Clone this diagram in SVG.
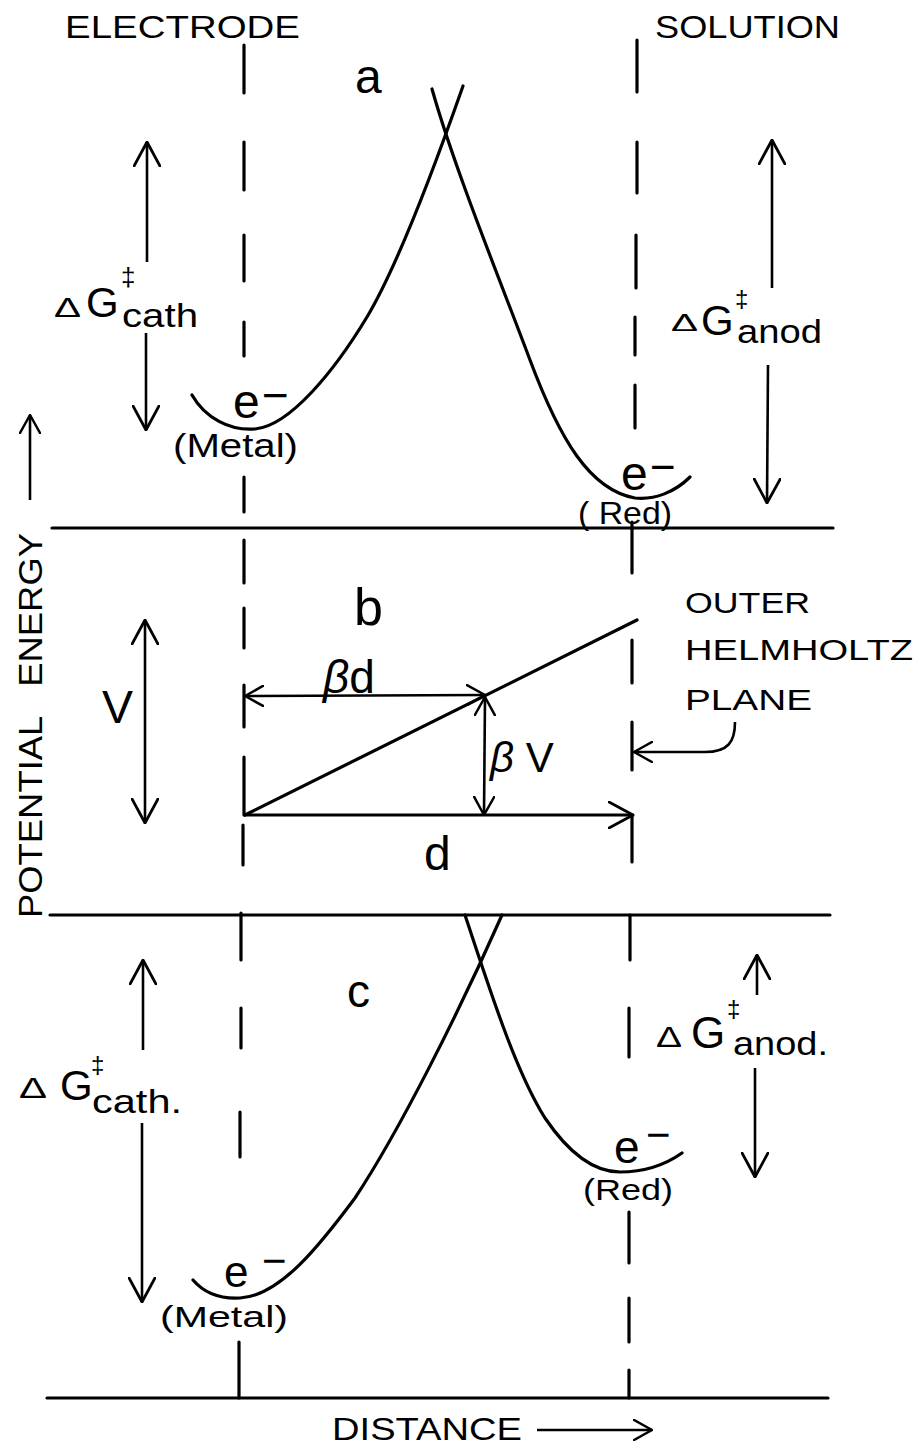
<svg xmlns="http://www.w3.org/2000/svg" width="918" height="1445" viewBox="0 0 918 1445">
<style>
.ln{stroke:#000;stroke-width:3.2;fill:none;stroke-linecap:round}
.ds{stroke:#000;stroke-width:3.2;fill:none;stroke-linecap:round}
.ar{stroke:#000;stroke-width:2.6;fill:none}
.t{font-family:"Liberation Sans",Arial,sans-serif;fill:#000}
</style>
<defs>
<marker id="ah" viewBox="0 0 26 28" refX="25" refY="14" markerWidth="26" markerHeight="28" markerUnits="userSpaceOnUse" orient="auto-start-reverse"><path d="M1,1 L25,14 L1,27" fill="none" stroke="#000" stroke-width="2.8" stroke-linecap="round" stroke-linejoin="round"/></marker>
<marker id="as" viewBox="0 0 20 22" refX="19" refY="11" markerWidth="20" markerHeight="22" markerUnits="userSpaceOnUse" orient="auto-start-reverse"><path d="M1,1 L19,11 L1,21" fill="none" stroke="#000" stroke-width="2.5" stroke-linecap="round" stroke-linejoin="round"/></marker>
</defs>
<rect width="918" height="1445" fill="#fff"/>

<g id="baselines">
<line class="ln" x1="52" y1="528" x2="833" y2="528"/>
<line class="ln" x1="50" y1="915" x2="830" y2="915"/>
<line class="ln" x1="47" y1="1398" x2="828" y2="1398"/>
</g>

<g id="electrode-plane">
<path class="ds" d="M244,45V93M244,142V190M244,235V281M244,322V356M244,477V512M244,540V583M244,608V648M244,685V727M244,757V815M243,825V865M241,913V960M241,1008V1048M240,1112V1157M239,1342V1398"/>
</g>
<g id="outer-helmholtz-plane">
<path class="ds" d="M637,40V92M637,142V193M636,235V288M635,317V355M635,385V428M632,522V573M632,640V683M632,722V770M632,815V862M630,915V960M629,1008V1057M629,1212V1263M629,1298V1342M629,1370V1398"/>
</g>

<g id="headers">
<text class="t" x="65" y="38" font-size="32" textLength="235" lengthAdjust="spacingAndGlyphs">ELECTRODE</text>
<text class="t" x="655" y="38" font-size="32" textLength="185" lengthAdjust="spacingAndGlyphs">SOLUTION</text>
</g>

<g id="axis-y">
<text class="t" transform="translate(42,918) rotate(-90)" font-size="34" textLength="385" lengthAdjust="spacingAndGlyphs" xml:space="preserve">POTENTIAL   ENERGY</text>
</g>
<g id="axis-x">
<text class="t" x="332" y="1440" font-size="32" textLength="190" lengthAdjust="spacingAndGlyphs">DISTANCE</text>
</g>

<g id="panel-a">
<text class="t" x="355" y="93" font-size="48">a</text>
<path id="curve-a-metal" class="ln" d="M192,395 C205,418 230,431 255,429 C290,426 335,370 367,317 C395,270 430,180 463,86"/>
<path id="curve-a-red" class="ln" d="M432,89 C455,170 500,280 530,360 C560,440 590,490 635,498 C655,500 675,492 690,477"/>
<text class="t" font-size="48"><tspan x="233" y="418">e</tspan><tspan x="262" y="411" font-size="46">−</tspan></text>
<text class="t" x="173" y="457" font-size="34" textLength="125" lengthAdjust="spacingAndGlyphs">(Metal)</text>
<text class="t" font-size="48"><tspan x="621" y="490">e</tspan><tspan x="650" y="482" font-size="44">−</tspan></text>
<text class="t" x="578" y="524" font-size="32" textLength="94" lengthAdjust="spacingAndGlyphs">( Red)</text>
<text class="t"><tspan x="54" y="317" font-size="28" textLength="27" lengthAdjust="spacingAndGlyphs">Δ</tspan><tspan x="86" y="317" font-size="42">G</tspan><tspan x="121" y="286" font-size="26">‡</tspan><tspan x="122" y="327" font-size="33" textLength="76" lengthAdjust="spacingAndGlyphs">cath</tspan></text>
<text class="t"><tspan x="671" y="331" font-size="24" textLength="27" lengthAdjust="spacingAndGlyphs">Δ</tspan><tspan x="701" y="335" font-size="42">G</tspan><tspan x="735" y="307" font-size="24">‡</tspan><tspan x="737" y="343" font-size="34" textLength="85" lengthAdjust="spacingAndGlyphs">anod</tspan></text>
</g>

<g id="panel-b">
<text class="t" x="354" y="625" font-size="52">b</text>
<text class="t" x="102" y="723" font-size="46" textLength="31" lengthAdjust="spacingAndGlyphs">V</text>
<path id="ramp" class="ln" d="M245,815 L637,620"/>
<text class="t" x="323" y="693" font-size="46"><tspan font-style="italic">β</tspan>d</text>
<text class="t" x="490" y="772" font-size="42"><tspan font-style="italic">β</tspan> V</text>
<text class="t" x="424" y="870" font-size="48">d</text>
<text class="t" x="685" y="613" font-size="30" textLength="125" lengthAdjust="spacingAndGlyphs">OUTER</text>
<text class="t" x="685" y="660" font-size="30" textLength="228" lengthAdjust="spacingAndGlyphs">HELMHOLTZ</text>
<text class="t" x="685" y="710" font-size="30" textLength="127" lengthAdjust="spacingAndGlyphs">PLANE</text>
</g>

<g id="panel-c">
<text class="t" x="347" y="1007" font-size="46">c</text>
<path id="curve-c-metal" class="ln" d="M193,1280 C205,1294 222,1299 240,1298 C280,1296 320,1245 355,1198 C400,1130 460,1010 502,915"/>
<path id="curve-c-red" class="ln" d="M465,915 C490,990 515,1070 545,1118 C570,1155 595,1172 620,1172 C645,1172 665,1165 682,1153"/>
<text class="t" font-size="46"><tspan x="614" y="1163">e</tspan><tspan x="646" y="1149" font-size="42">−</tspan></text>
<text class="t" x="583" y="1200" font-size="30" textLength="90" lengthAdjust="spacingAndGlyphs">(Red)</text>
<text class="t" font-size="44"><tspan x="224" y="1287">e</tspan><tspan x="262" y="1275" font-size="42">−</tspan></text>
<text class="t" x="160" y="1327" font-size="30" textLength="128" lengthAdjust="spacingAndGlyphs">(Metal)</text>
<text class="t"><tspan x="19" y="1098" font-size="30" textLength="28" lengthAdjust="spacingAndGlyphs">Δ</tspan><tspan x="60" y="1100" font-size="42">G</tspan><tspan x="91" y="1073" font-size="24">‡</tspan><tspan x="92" y="1113" font-size="33" textLength="90" lengthAdjust="spacingAndGlyphs">cath.</tspan></text>
<text class="t"><tspan x="656" y="1047" font-size="30" textLength="26" lengthAdjust="spacingAndGlyphs">Δ</tspan><tspan x="691" y="1048" font-size="44">G</tspan><tspan x="727" y="1017" font-size="24">‡</tspan><tspan x="733" y="1055" font-size="34" textLength="95" lengthAdjust="spacingAndGlyphs">anod.</tspan></text>
</g>

<g id="connectors">
<line class="ar" x1="147" y1="262" x2="147" y2="142" marker-end="url(#ah)"/>
<line class="ar" x1="146" y1="333" x2="146" y2="430" marker-end="url(#ah)"/>
<line class="ar" x1="772" y1="288" x2="772" y2="140" marker-end="url(#ah)"/>
<line class="ar" x1="768" y1="365" x2="767" y2="503" marker-end="url(#ah)"/>
<line class="ar" x1="145" y1="620" x2="145" y2="823" marker-start="url(#ah)" marker-end="url(#ah)"/>
<line class="ar" x1="245" y1="696" x2="485" y2="695" marker-start="url(#as)" marker-end="url(#as)"/>
<line class="ar" x1="485" y1="697" x2="484" y2="815" marker-start="url(#as)" marker-end="url(#as)"/>
<line class="ln" x1="245" y1="815" x2="633" y2="815" marker-end="url(#ah)"/>
<path class="ar" d="M735,722 C735,742 728,752 705,752 L634,752" marker-end="url(#as)"/>
<line class="ar" x1="143" y1="1050" x2="143" y2="960" marker-end="url(#ah)"/>
<line class="ar" x1="142" y1="1123" x2="142" y2="1302" marker-end="url(#ah)"/>
<line class="ar" x1="757" y1="995" x2="757" y2="955" marker-end="url(#ah)"/>
<line class="ar" x1="755" y1="1068" x2="755" y2="1177" marker-end="url(#ah)"/>
<line class="ar" x1="30" y1="500" x2="30" y2="415" marker-end="url(#as)"/>
<line class="ar" x1="537" y1="1430" x2="652" y2="1430" marker-end="url(#as)"/>
</g>
</svg>
